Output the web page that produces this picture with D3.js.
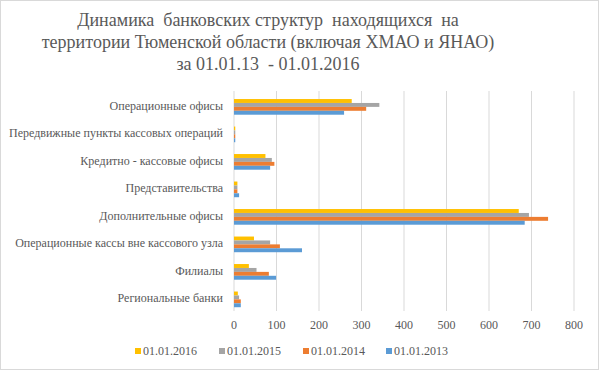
<!DOCTYPE html>
<html>
<head>
<meta charset="utf-8">
<script src="https://cdn.jsdelivr.net/npm/d3@7"></script>
<style>
  body { margin: 0; background: #fff; }
  #chart { position: relative; width: 599px; height: 370px; }
  #chart svg { position: absolute; left: 0; top: 0; }
</style>
</head>
<body>
<div id="chart"></div>
<script>
// categories, top to bottom
const categories = [
  "Операционные офисы",
  "Передвижные пункты кассовых операций",
  "Кредитно - кассовые офисы",
  "Представительства",
  "Дополнительные офисы",
  "Операционные кассы вне кассового узла",
  "Филиалы",
  "Региональные банки"
];
const seriesNames = ["01.01.2016", "01.01.2015", "01.01.2014", "01.01.2013"];
const seriesColors = ["#FFC000", "#A5A5A5", "#ED7D31", "#5B9BD5"];
const values2016 = [277, 3, 74, 8, 670, 47, 35, 9];
const values2015 = [342, 3, 89, 8, 694, 85, 53, 12];
const values2014 = [311, 3, 95, 8, 739, 108, 82, 16];
const values2013 = [259, 3, 85, 12, 684, 160, 99, 16];
const xTicks = [0, 100, 200, 300, 400, 500, 600, 700, 800];
const titleLines = [
  "Динамика  банковских структур  находящихся  на",
  "территории Тюменской области (включая ХМАО и ЯНАО)",
  "за 01.01.13  - 01.01.2016"
];

const W = 599, H = 370;
const chart = d3.select("#chart");
const svg = chart.append("svg")
  .attr("width", W).attr("height", H);

svg.append("rect")
  .attr("x", 0.5).attr("y", 0.5)
  .attr("width", W - 1).attr("height", H - 1)
  .attr("fill", "#fff").attr("stroke", "#D9D9D9");

// html text helper (svg text ignores the serif face here)
function label(x, y, txt, size, anchor) {
  const tx = anchor === "end" ? "-100%" : anchor === "middle" ? "-50%" : "0";
  return chart.append("div")
    .style("position", "absolute")
    .style("font-family", "'Liberation Serif'")
    .style("color", "#595959")
    .style("white-space", "pre")
    .style("line-height", "1")
    .style("left", x + "px")
    .style("top", y + "px")
    .style("font-size", size + "px")
    .style("transform", `translate(${tx},-50%)`)
    .text(txt);
}

// title
titleLines.forEach((t, i) => label(268, 20 + i * 22, t, 18, "middle"));

const x = d3.scaleLinear().domain([0, 800]).range([234, 574]);
const y = d3.scaleBand().domain(categories).range([91, 311])
  .paddingInner(0.43).paddingOuter(0.215).align(0.68);

const series = [values2016, values2015, values2014, values2013];
const ySub = d3.scaleBand().domain(d3.range(series.length)).range([0, y.bandwidth()]);

// gridlines
svg.append("g")
  .selectAll("line")
  .data(xTicks)
  .join("line")
  .attr("x1", d => x(d)).attr("x2", d => x(d))
  .attr("y1", 91).attr("y2", 311)
  .attr("stroke", "#D9D9D9").attr("stroke-width", 1);

// bars
series.forEach((vals, s) => {
  svg.append("g")
    .selectAll("rect")
    .data(vals)
    .join("rect")
    .attr("x", x(0))
    .attr("y", (d, i) => y(categories[i]) + ySub(s))
    .attr("width", d => x(d) - x(0))
    .attr("height", ySub.bandwidth())
    .attr("fill", seriesColors[s]);
});

// x tick labels
xTicks.forEach(t => label(x(t), 325, String(t), 12, "middle"));

// category labels
categories.forEach(c => label(223, y(c) + y.bandwidth() / 2 - 1, c, 12, "end"));

// legend
const legendX = [135, 219, 303, 386];
svg.append("g")
  .selectAll("rect")
  .data(seriesNames)
  .join("rect")
  .attr("x", (d, i) => legendX[i]).attr("y", 348)
  .attr("width", 6).attr("height", 6)
  .attr("fill", (d, i) => seriesColors[i]);
seriesNames.forEach((n, i) => label(legendX[i] + 8, 351, n, 12, "start"));
</script>
</body>
</html>
